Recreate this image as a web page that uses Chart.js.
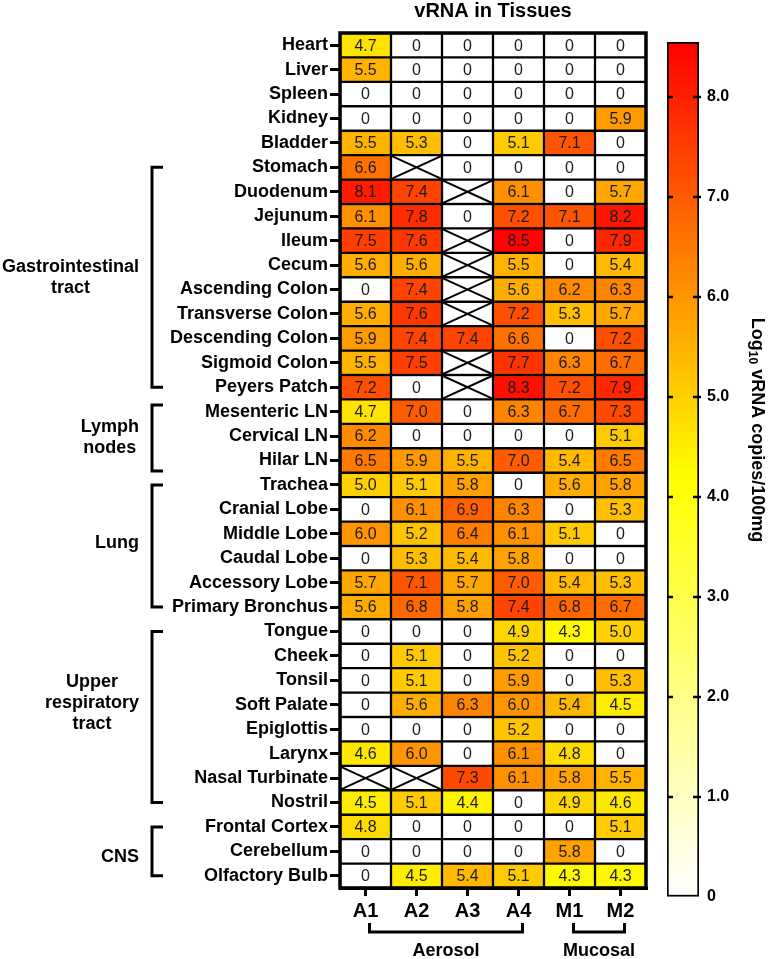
<!DOCTYPE html>
<html>
<head>
<meta charset="utf-8">
<script src="https://cdn.jsdelivr.net/npm/chart.js@4.4.0/dist/chart.umd.min.js"></script>
<style>
html,body{margin:0;padding:0;background:#fff;}
#wrap{position:relative;width:769px;height:959px;}
#wrap canvas{position:absolute;left:0;top:0;}
</style>
</head>
<body>
<div id="wrap">
<canvas id="heat" width="769" height="959"></canvas>
<canvas id="scale" width="769" height="959"></canvas>
</div>
<script>
const FONT='"Liberation Sans", Arial, Helvetica, sans-serif';

// rows (tissues), top to bottom
const tissues=['Heart','Liver','Spleen','Kidney','Bladder','Stomach','Duodenum','Jejunum','Ileum','Cecum',
  'Ascending Colon','Transverse Colon','Descending Colon','Sigmoid Colon','Peyers Patch',
  'Mesenteric LN','Cervical LN','Hilar LN',
  'Trachea','Cranial Lobe','Middle Lobe','Caudal Lobe','Accessory Lobe','Primary Bronchus',
  'Tongue','Cheek','Tonsil','Soft Palate','Epiglottis','Larynx','Nasal Turbinate','Nostril',
  'Frontal Cortex','Cerebellum','Olfactory Bulb'];
const columns=['A1','A2','A3','A4','M1','M2'];

// log10 vRNA copies/100mg, null = not sampled (crossed cell)
const a1=[4.7,5.5,0,0,5.5,6.6,8.1,6.1,7.5,5.6,0,5.6,5.9,5.5,7.2,4.7,6.2,6.5,5.0,0,6.0,0,5.7,5.6,0,0,0,0,0,4.6,null,4.5,4.8,0,0];
const a2=[0,0,0,0,5.3,null,7.4,7.8,7.6,5.6,7.4,7.6,7.4,7.5,0,7.0,0,5.9,5.1,6.1,5.2,5.3,7.1,6.8,0,5.1,5.1,5.6,0,6.0,null,5.1,0,0,4.5];
const a3=[0,0,0,0,0,0,null,0,null,null,null,null,7.4,null,null,0,0,5.5,5.8,6.9,6.4,5.4,5.7,5.8,0,0,0,6.3,0,0,7.3,4.4,0,0,5.4];
const a4=[0,0,0,0,5.1,0,6.1,7.2,8.5,5.5,5.6,7.2,6.6,7.7,8.3,6.3,0,7.0,0,6.3,6.1,5.8,7.0,7.4,4.9,5.2,5.9,6.0,5.2,6.1,6.1,0,0,0,5.1];
const m1=[0,0,0,0,7.1,0,0,7.1,0,0,6.2,5.3,0,6.3,7.2,6.7,0,5.4,5.6,0,5.1,0,5.4,6.8,4.3,0,0,5.4,0,4.8,5.8,4.9,0,5.8,4.3];
const m2=[0,0,0,5.9,0,0,5.7,8.2,7.9,5.4,6.3,5.7,7.2,6.7,7.9,7.3,5.1,6.5,5.8,5.3,0,0,5.3,6.7,5.0,0,5.3,4.5,0,0,5.5,4.6,5.1,0,4.3];
const columnValues=[a1,a2,a3,a4,m1,m2];

// colour scale
const scaleMax=8.55;
const scaleTicks=[0,1,2,3,4,5,6,7,8];

// tissue groups (left brackets) and routes (bottom brackets)
const groupLabels=[['Gastrointestinal','tract'],['Lymph','nodes'],['Lung'],['Upper','respiratory','tract'],['CNS']];
const groupFirst=['Stomach','Mesenteric LN','Trachea','Tongue','Frontal Cortex'];
const groupLast=['Peyers Patch','Hilar LN','Primary Bronchus','Nostril','Olfactory Bulb'];
const routeLabels=['Aerosol','Mucosal'];
const routeFirst=['A1','M1'];
const routeLast=['A4','M2'];

function heatColor(v){
    if(v===null){
        return '#ffffff';
    }
    const yel=4.2;
    if(v<=yel){
        const t=v/yel;
        return 'rgb(255,255,'+Math.round(255*(1-t))+')';
    }
    const t=Math.min(1,(v-yel)/(scaleMax-yel));
    return 'rgb(255,'+Math.round(255*(1-t))+',0)';
}

const cellLabels={
    id:'cellLabels',
    afterDatasetsDraw(chart){
        const ctx=chart.ctx;
        ctx.save();
        ctx.font='16px '+FONT;
        ctx.textAlign='center';
        ctx.textBaseline='middle';
        ctx.fillStyle='#1c1c1c';
        ctx.strokeStyle='#000';
        ctx.lineWidth=2;
        chart.data.datasets.forEach((ds,di)=>{
            const meta=chart.getDatasetMeta(di);
            meta.data.forEach((bar,ri)=>{
                const v=ds.values[ri];
                const cx=(bar.x+bar.base)/2;
                const cy=bar.y;
                if(v===null){
                    const hw=Math.abs(bar.x-bar.base)/2-1;
                    const hh=bar.height/2-1;
                    ctx.beginPath();
                    ctx.moveTo(cx-hw,cy-hh);
                    ctx.lineTo(cx+hw,cy+hh);
                    ctx.moveTo(cx+hw,cy-hh);
                    ctx.lineTo(cx-hw,cy+hh);
                    ctx.stroke();
                }else{
                    ctx.fillText(v===0?'0':v.toFixed(1),cx,cy+1);
                }
            });
        });
        ctx.restore();
    }
};

const heatDecor={
    id:'heatDecor',
    afterDraw(chart){
        const ctx=chart.ctx;
        const area=chart.chartArea;
        const ys=chart.scales.y;
        const xs=chart.scales.x;
        const rowH=ys.getPixelForValue(1)-ys.getPixelForValue(0);
        ctx.save();
        // title
        ctx.fillStyle='#000';
        ctx.font='bold 20px '+FONT;
        ctx.textAlign='center';
        ctx.textBaseline='middle';
        ctx.fillText('vRNA in Tissues',(area.left+area.right)/2,11);
        // frame
        ctx.strokeStyle='#000';
        ctx.lineWidth=3.5;
        ctx.strokeRect(area.left,area.top,area.right-area.left,area.bottom-area.top);
        // left brackets
        const padTop=[0,-0.27,0,0,0];
        const padBottom=[0,0.43,0,0,0];
        const labelShift=[0,0,-3,-14,6];
        const bx=152,serif=11;
        ctx.lineWidth=3;
        ctx.lineJoin='miter';
        ctx.font='bold 18px '+FONT;
        groupLabels.forEach((lines,g)=>{
            const y0=ys.getPixelForValue(tissues.indexOf(groupFirst[g]))+padTop[g]*rowH;
            const y1=ys.getPixelForValue(tissues.indexOf(groupLast[g]))+padBottom[g]*rowH;
            ctx.beginPath();
            ctx.moveTo(bx+serif,y0);
            ctx.lineTo(bx,y0);
            ctx.lineTo(bx,y1);
            ctx.lineTo(bx+serif,y1);
            ctx.stroke();
            const lh=21;
            const w=Math.max(...lines.map(l=>ctx.measureText(l).width));
            const cx=139-w/2;
            const cy=(y0+y1)/2+labelShift[g];
            lines.forEach((l,i)=>{
                ctx.fillText(l,cx,cy+(i-(lines.length-1)/2)*lh);
            });
        });
        // bottom brackets
        const by0=area.bottom+35,by1=area.bottom+44;
        routeLabels.forEach((label,r)=>{
            const x0=xs.getPixelForValue(columns.indexOf(routeFirst[r])+0.5)+4;
            const x1=xs.getPixelForValue(columns.indexOf(routeLast[r])+0.5)+4;
            ctx.beginPath();
            ctx.moveTo(x0,by0);
            ctx.lineTo(x0,by1);
            ctx.lineTo(x1,by1);
            ctx.lineTo(x1,by0);
            ctx.stroke();
            ctx.fillText(label,(x0+x1)/2,area.bottom+63);
        });
        ctx.restore();
    }
};

const cellDatasets=columnValues.map((vals,c)=>({
    label:columns[c],
    data:tissues.map(()=>[c,c+1]),
    values:vals,
    backgroundColor:vals.map(heatColor),
    borderColor:'#000',
    borderWidth:1.5,
    borderSkipped:false,
    grouped:false,
    barPercentage:1,
    categoryPercentage:1
}));

new Chart(document.getElementById('heat'),{
    type:'bar',
    data:{labels:tissues,datasets:cellDatasets},
    options:{
        indexAxis:'y',
        responsive:false,
        animation:false,
        events:[],
        layout:{padding:{left:0,right:123,top:33,bottom:0}},
        plugins:{legend:{display:false},tooltip:{enabled:false},title:{display:false}},
        scales:{
            y:{
                type:'category',
                afterFit(s){s.width=340;},
                grid:{offset:false,drawOnChartArea:false,drawTicks:true,tickLength:10,color:'#000',lineWidth:3},
                border:{display:true,color:'#000',width:3},
                ticks:{autoSkip:false,color:'#000',padding:2,font:{family:FONT,size:18,weight:'bold'}}
            },
            x:{
                type:'linear',
                min:0,
                max:6,
                afterFit(s){s.height=71;},
                afterBuildTicks(s){s.ticks=columns.map((c,i)=>({value:i+0.5}));},
                grid:{drawOnChartArea:false,tickLength:8,color:'#000',lineWidth:3},
                border:{display:true,color:'#000',width:3},
                ticks:{color:'#000',padding:3,maxRotation:0,font:{family:FONT,size:20,weight:'bold'},
                    callback:(v)=>columns[Math.floor(v)]}
            }
        }
    },
    plugins:[cellLabels,heatDecor]
});

const colorbarDecor={
    id:'colorbarDecor',
    afterDraw(chart){
        const ctx=chart.ctx;
        const area=chart.chartArea;
        const ys=chart.scales.y;
        ctx.save();
        ctx.strokeStyle='#000';
        ctx.lineWidth=2.5;
        scaleTicks.forEach(v=>{
            const py=ys.getPixelForValue(v);
            if(v===0){return;}
            ctx.beginPath();
            ctx.moveTo(area.left,py);
            ctx.lineTo(area.left+6,py);
            ctx.moveTo(area.right-6,py);
            ctx.lineTo(area.right+2,py);
            ctx.stroke();
        });
        // axis title, reads top to bottom
        ctx.translate(757,430);
        ctx.rotate(Math.PI/2);
        ctx.fillStyle='#000';
        ctx.textBaseline='middle';
        ctx.textAlign='left';
        const big='bold 18px '+FONT,small='bold 12px '+FONT;
        ctx.font=big;
        const w1=ctx.measureText('Log').width;
        const w3=ctx.measureText(' vRNA copies/100mg').width;
        ctx.font=small;
        const w2=ctx.measureText('10').width;
        let x=-(w1+w2+w3)/2;
        ctx.font=big;
        ctx.fillText('Log',x,0);
        x+=w1;
        ctx.font=small;
        ctx.fillText('10',x,5);
        x+=w2;
        ctx.font=big;
        ctx.fillText(' vRNA copies/100mg',x,0);
        ctx.restore();
    }
};

new Chart(document.getElementById('scale'),{
    type:'bar',
    data:{
        labels:[''],
        datasets:[{
            data:[[0,scaleMax]],
            backgroundColor:function(context){
                const a=context.chart.chartArea;
                if(!a){
                    return '#fff';
                }
                const g=context.chart.ctx.createLinearGradient(0,a.bottom,0,a.top);
                for(let v=0;v<=scaleMax;v+=0.25){
                    g.addColorStop(v/scaleMax,heatColor(v));
                }
                g.addColorStop(1,heatColor(scaleMax));
                return g;
            },
            borderColor:'#000',
            borderWidth:2,
            borderSkipped:false,
            barPercentage:1,
            categoryPercentage:1
        }]
    },
    options:{
        responsive:false,
        animation:false,
        events:[],
        layout:{padding:{left:667,right:0,top:42,bottom:62}},
        plugins:{legend:{display:false},tooltip:{enabled:false}},
        scales:{
            x:{display:false},
            y:{
                position:'right',
                min:0,
                max:scaleMax,
                afterFit(s){s.width=70;},
                afterBuildTicks(s){s.ticks=scaleTicks.map(v=>({value:v}));},
                grid:{drawOnChartArea:false,drawTicks:false},
                border:{display:false},
                ticks:{padding:8,color:'#000',font:{family:FONT,size:16,weight:'bold'},
                    callback:(v)=>v===0?'0':v.toFixed(1)}
            }
        }
    },
    plugins:[colorbarDecor]
});
</script>
</body>
</html>
